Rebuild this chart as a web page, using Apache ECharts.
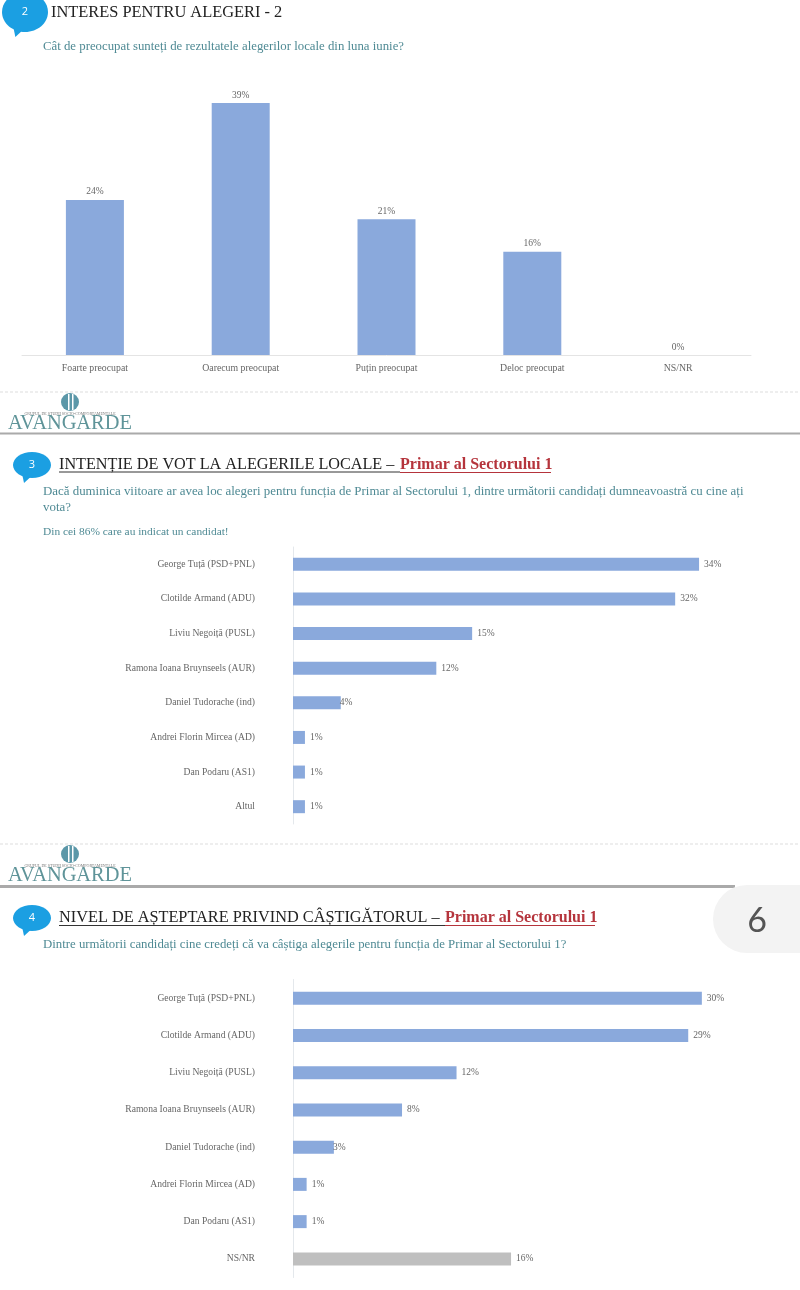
<!DOCTYPE html>
<html>
<head>
<meta charset="utf-8">
<title>Avangarde</title>
<script src="https://cdn.jsdelivr.net/npm/echarts@6/dist/echarts.min.js"></script>
<style>
html, body { margin: 0; padding: 0; background: #fff; }
#main { width: 800px; height: 1290px; }
</style>
</head>
<body>
<div id="main"></div>
<script>
// grafic 2 - interes
var interesCategories = ['Foarte preocupat', 'Oarecum preocupat', 'Puțin preocupat', 'Deloc preocupat', 'NS/NR'];
var interesValues = [24, 39, 21, 16, 0];

// grafic 3 - intentie de vot
var votCategories = ['George Tuță (PSD+PNL)', 'Clotilde Armand (ADU)', 'Liviu Negoiță (PUSL)', 'Ramona Ioana Bruynseels (AUR)', 'Daniel Tudorache (ind)', 'Andrei Florin Mircea (AD)', 'Dan Podaru (AS1)', 'Altul'];
var votValues = [34, 32, 15, 12, 4, 1, 1, 1];

// grafic 4 - asteptare castigator
var asteptareCategories = ['George Tuță (PSD+PNL)', 'Clotilde Armand (ADU)', 'Liviu Negoiță (PUSL)', 'Ramona Ioana Bruynseels (AUR)', 'Daniel Tudorache (ind)', 'Andrei Florin Mircea (AD)', 'Dan Podaru (AS1)', 'NS/NR'];
var asteptareValues = [30, 29, 12, 8, 3, 1, 1, 16];

var SERIF = '"Liberation Serif", serif';
var BLUE = '#8AA9DC';
var TEAL = '#4F8A94';
var GREY_TXT = '#666';
var RED = '#B5343C';

function txt(x, y, text, size, color, extra) {
    var style = {
        x: x, y: y, text: text,
        font: size + 'px ' + SERIF,
        fill: color,
        textVerticalAlign: 'middle'
    };
    for (var k in extra) style[k] = extra[k];
    return {type: 'text', style: style};
}
function line(x1, y1, x2, y2, color, width, dash) {
    return {type: 'line', shape: {x1: x1, y1: y1, x2: x2, y2: y2},
        style: {stroke: color, lineWidth: width, lineDash: dash || null}};
}
// bula albastra cu numarul sectiunii
function bubble(cx, cy, rx, ry, label) {
    return [
        {type: 'polygon', shape: {points: [[cx - rx * 0.55, cy + ry * 0.5], [cx - rx * 0.42, cy + ry + 5], [cx + rx * 0.1, cy + ry * 0.7]]},
            style: {fill: '#1B9FE2'}},
        {type: 'ellipse', shape: {cx: cx, cy: cy, rx: rx, ry: ry}, style: {fill: '#1B9FE2'}},
        {type: 'text', style: {x: cx, y: cy, text: label, font: '11px "Open Sans", sans-serif', fill: '#fff', textAlign: 'center', textVerticalAlign: 'middle'}}
    ];
}
function logo(y) {
    return [
        {type: 'circle', shape: {cx: 70, cy: y, r: 9}, style: {fill: '#5B97A8'}},
        {type: 'rect', shape: {x: 68, y: y - 8, width: 1.5, height: 16}, style: {fill: '#fff'}},
        {type: 'rect', shape: {x: 72, y: y - 8, width: 1.5, height: 16}, style: {fill: '#fff'}},
        txt(70, y + 12, 'GRUPUL DE STUDII SOCIO-COMPORTAMENTALE', 4, '#777', {textAlign: 'center'}),
        txt(8, y + 21.5, 'AVANGARDE', 20.4, '#5F9499')
    ];
}

var graphics = [].concat(
    bubble(25, 12, 23, 20, '2'),
    [
        txt(51, 13, 'INTERES PENTRU ALEGERI - 2', 16.4, '#222'),
        txt(43, 47, 'Cât de preocupat sunteți de rezultatele alegerilor locale din luna iunie?', 12.8, TEAL),
        line(0, 392, 800, 392, '#ddd', 1, [3, 2]),
        line(0, 433.5, 800, 433.5, '#aaa', 2)
    ],
    logo(402),
    bubble(32, 465, 19, 13, '3'),
    [
        txt(59, 465, 'INTENȚIE DE VOT LA ALEGERILE LOCALE – ', 16.2, '#222'),
        txt(400, 465, 'Primar al Sectorului 1', 16, RED, {font: 'bold 16px ' + SERIF}),
        line(59, 472, 400, 472, '#333', 1),
        line(400, 472.5, 551, 472.5, RED, 1),
        txt(43, 492, 'Dacă duminica viitoare ar avea loc alegeri pentru funcția de Primar al Sectorului 1, dintre următorii candidați dumneavoastră cu cine ați', 12.9, TEAL),
        txt(43, 508, 'vota?', 12.9, TEAL),
        txt(43, 532, 'Din cei 86% care au indicat un candidat!', 11.4, TEAL),
        line(0, 844, 800, 844, '#ddd', 1, [3, 2]),
        line(0, 886.5, 735, 886.5, '#aaa', 3)
    ],
    logo(854),
    [
        {type: 'rect', shape: {x: 713, y: 885, width: 120, height: 68, r: 34}, style: {fill: '#F3F3F3'}},
        {type: 'text', style: {x: 757, y: 921, text: '6', font: '34px Lato, sans-serif', fill: '#555', textAlign: 'center', textVerticalAlign: 'middle'}}
    ],
    bubble(32, 918, 19, 13, '4'),
    [
        txt(59, 918, 'NIVEL DE AȘTEPTARE PRIVIND CÂȘTIGĂTORUL – ', 16.3, '#222'),
        txt(445, 918, 'Primar al Sectorului 1', 16, RED, {font: 'bold 16px ' + SERIF}),
        line(59, 925.5, 445, 925.5, '#333', 1),
        line(445, 925.5, 595, 925.5, RED, 1),
        txt(43, 945, 'Dintre următorii candidați cine credeți că va câștiga alegerile pentru funcția de Primar al Sectorului 1?', 12.8, TEAL)
    ]
);

function pct(p) { return p.value + '%'; }

// etichetele mici lipite de bara (4%, 3%) stau aproape de capat
function hBarData(values, categories) {
    return values.map(function (v, i) {
        var item = {value: v};
        if (v === 3 || v === 4) item.label = {distance: -1};
        if (categories[i] === 'NS/NR') item.itemStyle = {color: '#BFBFBF'};
        return item;
    });
}
function hAxes(index, categories, max) {
    return {
        x: {gridIndex: index, type: 'value', min: 0, max: max, show: false},
        y: {gridIndex: index, type: 'category', inverse: true, data: categories,
            axisTick: {show: false},
            axisLine: {lineStyle: {color: '#E4E8EC'}},
            axisLabel: {margin: 38, color: GREY_TXT, fontFamily: SERIF, fontSize: 9.6}}
    };
}
var vot = hAxes(1, votCategories, 35);
var ast = hAxes(2, asteptareCategories, 35);

var option = {
    animation: false,
    backgroundColor: '#fff',
    graphic: graphics,
    grid: [
        {left: 22, top: 96.6, width: 729, height: 258.4},
        {left: 293, top: 547, width: 418, height: 277},
        {left: 293, top: 979.5, width: 477, height: 298}
    ],
    xAxis: [
        {gridIndex: 0, type: 'category', data: interesCategories,
            axisTick: {show: false},
            axisLine: {lineStyle: {color: '#E4E4E4'}},
            axisLabel: {margin: 8, color: GREY_TXT, fontFamily: SERIF, fontSize: 9.8, interval: 0}},
        vot.x, ast.x
    ],
    yAxis: [
        {gridIndex: 0, type: 'value', min: 0, max: 40, show: false},
        vot.y, ast.y
    ],
    series: [
        {type: 'bar', xAxisIndex: 0, yAxisIndex: 0, data: interesValues, barWidth: 58,
            itemStyle: {color: BLUE},
            label: {show: true, position: 'top', distance: 3, formatter: pct, color: GREY_TXT, fontFamily: SERIF, fontSize: 9.5}},
        {type: 'bar', xAxisIndex: 1, yAxisIndex: 1, data: hBarData(votValues, votCategories), barWidth: 13,
            itemStyle: {color: BLUE},
            label: {show: true, position: 'right', distance: 5, formatter: pct, color: GREY_TXT, fontFamily: SERIF, fontSize: 9.5}},
        {type: 'bar', xAxisIndex: 2, yAxisIndex: 2, data: hBarData(asteptareValues, asteptareCategories), barWidth: 13,
            itemStyle: {color: BLUE},
            label: {show: true, position: 'right', distance: 5, formatter: pct, color: GREY_TXT, fontFamily: SERIF, fontSize: 9.5}}
    ]
};

var chart = echarts.init(document.getElementById('main'), null, {renderer: 'canvas'});
chart.setOption(option);
</script>
</body>
</html>
